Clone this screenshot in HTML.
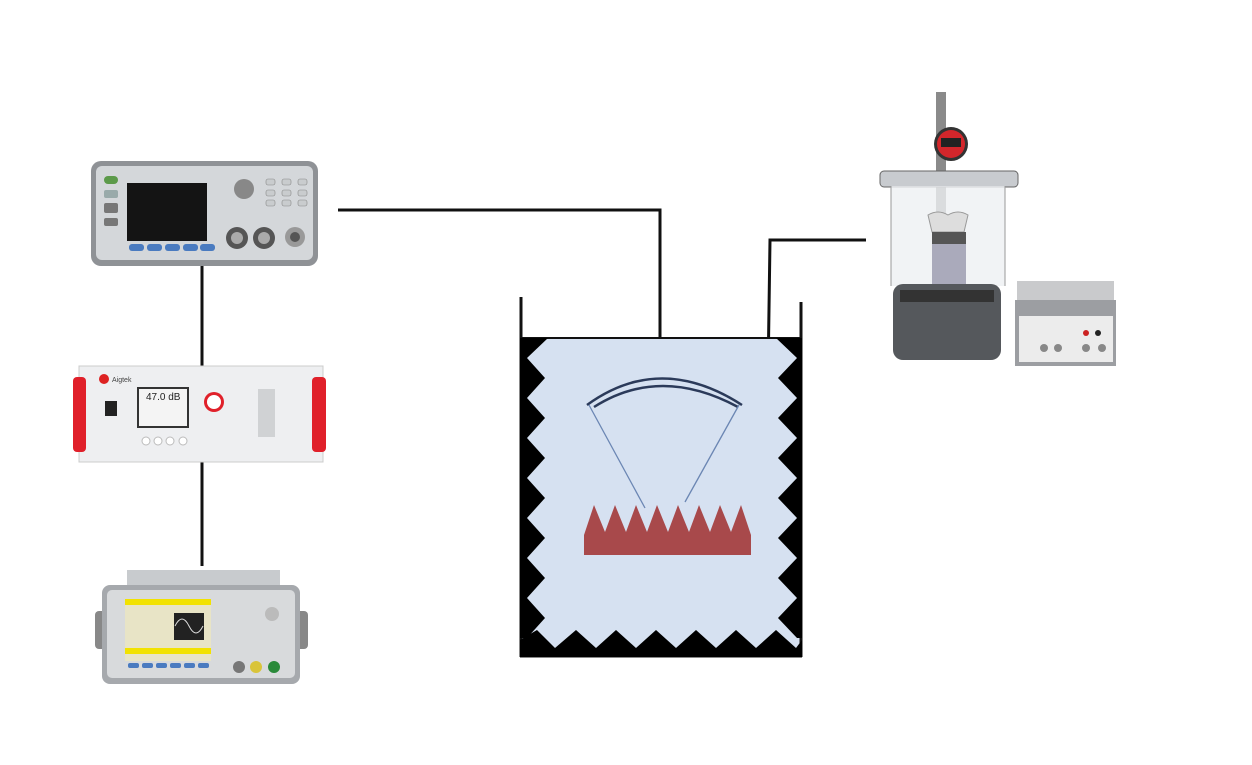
<!DOCTYPE html>
<html><head><meta charset="utf-8"><style>
html,body{margin:0;padding:0;background:#fff;width:1252px;height:765px;overflow:hidden}
svg{display:block}
text{font-family:"Liberation Sans",sans-serif}
</style></head><body>
<svg width="1252" height="765" viewBox="0 0 1252 765" xmlns="http://www.w3.org/2000/svg">
<!-- wires -->
<g stroke="#111" stroke-width="3" fill="none">
<polyline points="338,210 660,210 660,375"/>
<polyline points="866,240 770,240 765,585 661,585 661,555"/>
<line x1="202" y1="266" x2="202" y2="366"/>
<line x1="202" y1="462" x2="202" y2="566"/>
</g>

<!-- tank -->
<rect x="520" y="338" width="282" height="319" fill="#d6e1f1"/>
<line x1="520" y1="338" x2="802" y2="338" stroke="#111" stroke-width="2"/>
<line x1="521" y1="297" x2="521" y2="657" stroke="#111" stroke-width="3"/>
<line x1="801" y1="302" x2="801" y2="657" stroke="#111" stroke-width="3"/>
<line x1="520" y1="656" x2="802" y2="656" stroke="#111" stroke-width="3"/>
<polygon fill="#000" points="520,338 548,338 527,358 545,378 527,398 545,418 527,438 545,458 527,478 545,498 527,518 545,538 527,558 545,578 527,598 545,618 527,638 520,638"/>
<polygon fill="#000" points="802,338 776,338 797,358 778,378 797,398 778,418 797,438 778,458 797,478 778,498 797,518 778,538 797,558 778,578 797,598 778,618 797,638 802,638"/>
<polygon fill="#000" points="520,657 520,640 537,630 555,648 576,630 596,648 616,630 636,648 656,630 676,648 696,630 716,648 736,630 756,648 776,630 796,648 802,640 802,657"/>
<!-- transducer -->
<path d="M587,405 Q660,352 742,405" stroke="#2b3a5a" stroke-width="2.5" fill="none"/>
<path d="M594,407 Q660,365 738,407" stroke="#2b3a5a" stroke-width="2.5" fill="none"/>
<line x1="589" y1="405" x2="645" y2="508" stroke="#6b86b3" stroke-width="1.3"/>
<line x1="739" y1="405" x2="685" y2="502" stroke="#6b86b3" stroke-width="1.3"/>
<polygon fill="#a8494b" points="584,555 584,535 594,505 605,532 615,505 626,532 636,505 647,532 657,505 668,532 678,505 689,532 699,505 710,532 720,505 731,532 741,505 751,535 751,555"/>

<!-- power meter -->
<rect x="91" y="161" width="227" height="105" rx="10" fill="#8f9296"/>
<rect x="96" y="166" width="217" height="94" rx="6" fill="#d4d7da"/>
<rect x="127" y="183" width="80" height="58" fill="#141414"/>
<rect x="104" y="176" width="14" height="8" rx="4" fill="#5c9a4a"/>
<rect x="104" y="190" width="14" height="8" rx="2" fill="#9aa"/>
<rect x="104" y="203" width="14" height="10" rx="2" fill="#777"/>
<rect x="104" y="218" width="14" height="8" rx="2" fill="#777"/>
<g fill="#4a7bc0"><rect x="129" y="244" width="15" height="7" rx="3"/><rect x="147" y="244" width="15" height="7" rx="3"/><rect x="165" y="244" width="15" height="7" rx="3"/><rect x="183" y="244" width="15" height="7" rx="3"/><rect x="200" y="244" width="15" height="7" rx="3"/></g>
<circle cx="244" cy="189" r="10" fill="#888"/>
<g fill="#c9ccce" stroke="#888" stroke-width=".6"><rect x="266" y="179" width="9" height="6" rx="2"/><rect x="282" y="179" width="9" height="6" rx="2"/><rect x="298" y="179" width="9" height="6" rx="2"/><rect x="266" y="190" width="9" height="6" rx="2"/><rect x="282" y="190" width="9" height="6" rx="2"/><rect x="298" y="190" width="9" height="6" rx="2"/><rect x="266" y="200" width="9" height="6" rx="2"/><rect x="282" y="200" width="9" height="6" rx="2"/><rect x="298" y="200" width="9" height="6" rx="2"/></g>
<circle cx="237" cy="238" r="11" fill="#555"/><circle cx="237" cy="238" r="6" fill="#aaa"/>
<circle cx="264" cy="238" r="11" fill="#555"/><circle cx="264" cy="238" r="6" fill="#aaa"/>
<circle cx="295" cy="237" r="10" fill="#999"/><circle cx="295" cy="237" r="5" fill="#555"/>

<!-- amplifier -->
<rect x="79" y="366" width="244" height="96" fill="#eeeff1" stroke="#ccc"/>
<rect x="73" y="377" width="13" height="75" rx="4" fill="#e0202a"/>
<rect x="312" y="377" width="14" height="75" rx="4" fill="#e0202a"/>
<circle cx="104" cy="379" r="5" fill="#d22"/>
<text x="112" y="382" font-size="7" fill="#444">Aigtek</text>
<rect x="105" y="401" width="12" height="15" fill="#222"/>
<rect x="137" y="387" width="52" height="41" fill="#333"/>
<rect x="139" y="389" width="48" height="37" fill="#f4f4f4"/>
<text x="146" y="400" font-size="10" fill="#222">47.0 dB</text>
<circle cx="214" cy="402" r="10" fill="#e0202a"/><circle cx="214" cy="402" r="7" fill="#fff"/>
<rect x="258" y="389" width="17" height="48" fill="#d0d2d4"/>
<g fill="#fff" stroke="#bbb"><circle cx="146" cy="441" r="4"/><circle cx="158" cy="441" r="4"/><circle cx="170" cy="441" r="4"/><circle cx="183" cy="441" r="4"/></g>

<!-- function generator -->
<rect x="127" y="570" width="153" height="18" fill="#c8cbce"/>
<rect x="95" y="611" width="12" height="38" rx="4" fill="#888"/>
<rect x="296" y="611" width="12" height="38" rx="4" fill="#888"/>
<rect x="102" y="585" width="198" height="99" rx="8" fill="#a6a9ad"/>
<rect x="107" y="590" width="188" height="88" rx="5" fill="#d8dadc"/>
<rect x="125" y="599" width="86" height="62" fill="#e8e4c6"/>
<rect x="125" y="599" width="86" height="6" fill="#f2e200"/>
<rect x="125" y="648" width="86" height="6" fill="#f2e200"/>
<rect x="174" y="613" width="30" height="27" fill="#222"/>
<path d="M175,626 q7,-14 14,0 t14,0" stroke="#ddd" fill="none"/>
<g fill="#4a7bc0"><rect x="128" y="663" width="11" height="5" rx="2"/><rect x="142" y="663" width="11" height="5" rx="2"/><rect x="156" y="663" width="11" height="5" rx="2"/><rect x="170" y="663" width="11" height="5" rx="2"/><rect x="184" y="663" width="11" height="5" rx="2"/><rect x="198" y="663" width="11" height="5" rx="2"/></g>
<circle cx="272" cy="614" r="7" fill="#bbb"/>
<circle cx="239" cy="667" r="6" fill="#777"/><circle cx="256" cy="667" r="6" fill="#d9c43a"/><circle cx="274" cy="667" r="6" fill="#2a8a3a"/>

<!-- hydrophone setup -->
<rect x="936" y="92" width="10" height="220" fill="#8a8a8a"/>
<circle cx="951" cy="144" r="17" fill="#333"/>
<circle cx="951" cy="144" r="14" fill="#d3262b"/>
<rect x="941" y="138" width="20" height="9" fill="#222"/>
<rect x="880" y="171" width="138" height="16" rx="4" fill="#c8cbcf" stroke="#666"/>
<rect x="891" y="186" width="114" height="100" fill="#eef0f2" opacity=".8"/>
<line x1="891" y1="186" x2="891" y2="286" stroke="#999"/>
<line x1="1005" y1="186" x2="1005" y2="286" stroke="#999"/>
<path d="M928,215 q10,-6 20,0 q10,-6 20,0 l-4,17 h-32z" fill="#ddd" stroke="#999"/>
<rect x="932" y="232" width="34" height="12" fill="#555"/>
<rect x="932" y="244" width="34" height="45" fill="#aab"/>
<rect x="893" y="284" width="108" height="76" rx="10" fill="#55585c"/>
<rect x="900" y="290" width="94" height="12" fill="#333"/>
<rect x="1017" y="281" width="97" height="22" fill="#c9cacc"/>
<rect x="1015" y="300" width="101" height="66" fill="#9c9ea2"/>
<rect x="1019" y="316" width="94" height="46" fill="#ececec"/>
<circle cx="1044" cy="348" r="4" fill="#888"/><circle cx="1058" cy="348" r="4" fill="#888"/><circle cx="1086" cy="348" r="4" fill="#888"/><circle cx="1102" cy="348" r="4" fill="#888"/>
<circle cx="1086" cy="333" r="3" fill="#c22"/><circle cx="1098" cy="333" r="3" fill="#222"/>
</svg>
</body></html>
